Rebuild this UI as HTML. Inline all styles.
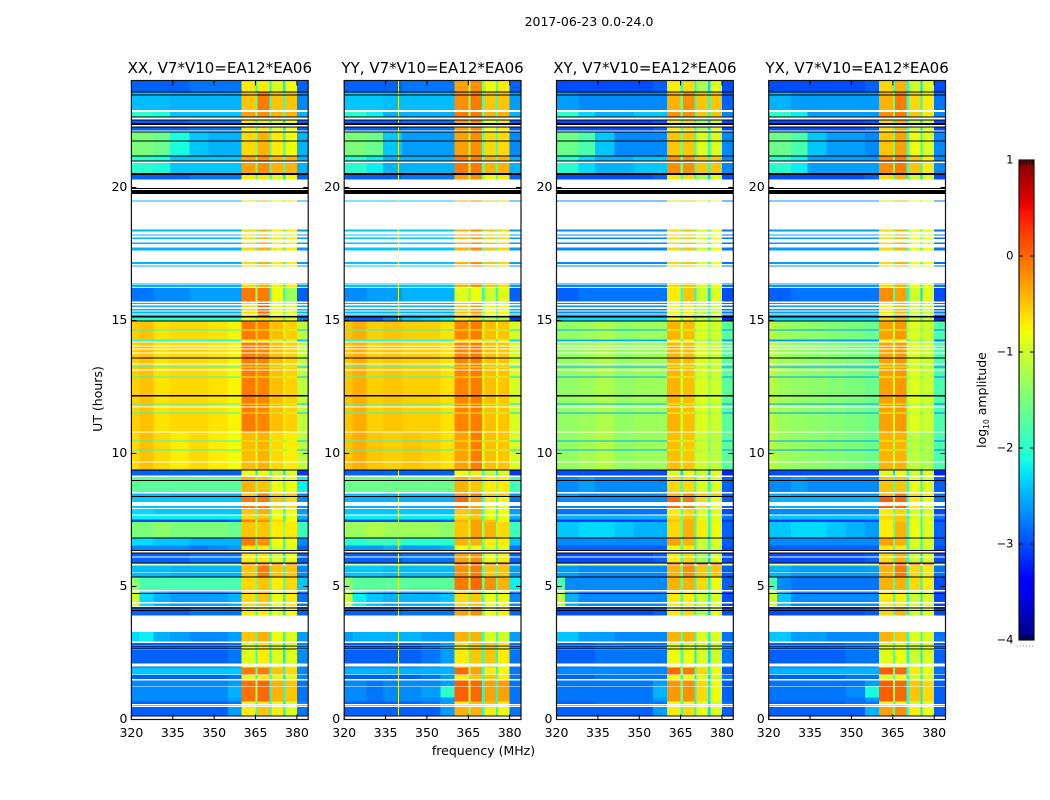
<!DOCTYPE html>
<html lang="en">
<head>
<meta charset="utf-8">
<title>2017-06-23 0.0-24.0</title>
<style>
html,body{margin:0;padding:0;background:#fff;}
svg{display:block;font-family:"DejaVu Sans","Liberation Sans",sans-serif;fill:#000;}
text{font-size:12.5px;}
</style>
</head>
<body>
<svg id="chart" xmlns="http://www.w3.org/2000/svg" width="1050" height="800" viewBox="0 0 1050 800">
  <rect x="0" y="0" width="1050" height="800" fill="#ffffff"/>
  <text x="589" y="26" text-anchor="middle" style="font-size:12.5px">2017-06-23 0.0-24.0</text>
  <text x="483.5" y="755" text-anchor="middle">frequency (MHz)</text>
  <text transform="translate(102,399) rotate(-90)" text-anchor="middle">UT (hours)</text>
  <text transform="translate(986,400) rotate(-90)" text-anchor="middle">log<tspan dy="3" style="font-size:7.5px">10</tspan><tspan dy="-3"> amplitude</tspan></text>
</svg>
<script>
// ---------- data ----------
const panelNames = ["XX", "YY", "XY", "YX"];
const panelSuffix = ", V7*V10=EA12*EA06";
const frequencyEdges = [320, 323, 328, 334, 341, 348, 355, 360, 365, 365.8, 370, 370.8, 375, 375.8, 380, 384.1];
const frequencyTicks = [320, 335, 350, 365, 380];
const hourTicks = [0, 5, 10, 15, 20];
const colorTicks = [1, 0, -1, -2, -3, -4];
const colorMinorTicks = [320.5, 321.5, 322.5, 323.5, 324.5];

// Time blocks: hour start, hour end, spectrum profile. White is whatever no block covers.
const blockStart = [0.13,0.50,0.58,0.68,0.82,1.25,1.52,1.70,1.96,2.11,2.67,2.80,2.93,3.91,4.26,4.41,4.86,5.38,5.55,5.83,5.90,6.13,6.37,6.55,6.85,7.42,7.52,7.71,7.95,8.18,8.40,8.56,9.00,9.17,
  9.40,9.70,10.11,10.15,10.45,10.49,10.83,11.50,11.54,11.77,11.84,11.88,12.86,12.90,13.16,13.23,13.27,13.38,13.80,13.95,14.06,14.21,14.28,14.32,14.62,14.66,
  15.00,15.16,15.27,15.38,15.50,15.62,15.71,16.26,16.35,17.02,17.12,17.63,17.88,18.06,18.19,18.35,19.47,20.30,20.55,21.00,21.20,21.77,22.15,22.43,22.67,22.92,23.50,23.60];
const blockEnd = [0.47,0.53,0.68,0.82,1.25,1.47,1.67,1.96,2.00,2.61,2.74,2.88,3.29,4.22,4.37,4.82,5.34,5.52,5.79,5.88,6.09,6.25,6.55,6.80,7.42,7.52,7.67,7.91,8.03,8.37,8.50,8.96,9.12,9.36,
  9.66,10.11,10.15,10.45,10.49,10.79,11.50,11.54,11.73,11.84,11.88,12.86,12.90,13.12,13.23,13.27,13.34,13.76,13.91,14.02,14.17,14.28,14.32,14.62,14.66,15.00,
  15.14,15.22,15.33,15.44,15.57,15.66,16.22,16.33,16.39,17.06,17.20,17.75,17.93,18.11,18.23,18.41,19.51,20.46,20.92,21.17,21.73,22.07,22.25,22.52,22.84,23.47,23.58,24.02];
const blockProfile = ["x","x","u","v","V","v","u","a","u","u","u","u","r","d","q","q","p","c","c","f","d","d","o","O","k","j","i","b","a","a","c","h","h","m",
  "z","z","e","z","e","z","y","e","y","y","e","y","e","y","y","e","y","y","y","y","y","e","y","y","e","y",
  "w","s","s","s","s","s","n","l","l","l","l","l","l","l","l","l","l","d","t","t","g","g","d","d","t","c","c","d"];

// Thin black (flagged) lines and thick black bands, in hours.
const blackStart = [0.11,2.63,2.75,4.07,4.17,4.71,5.34,5.86,6.24,6.33,6.80,8.37,8.97,9.36,12.15,13.57,14.96,15.12,19.94,19.76,20.46,20.98,21.17,21.73,22.07,22.25,22.35,22.52,22.63,23.46,23.57];
const blackEnd   = [0.15,2.67,2.79,4.11,4.21,4.75,5.38,5.90,6.28,6.37,6.84,8.41,9.01,9.40,12.19,13.61,15.00,15.16,19.97,19.91,20.55,21.02,21.21,21.77,22.11,22.29,22.43,22.56,22.67,23.50,23.61];

// Level per channel: 7 sky channels, hot, gap, hot, gap, hot, gap, hot, upper edge (log10 amplitude).
const levelsXX = {
 d:[-2.9,-2.9,-2.9,-2.9,-2.8,-2.8,-2.8,-0.7,-1.9,-0.7,-2.1,-0.9,-2.2,-0.8,-2.9],
 c:[-2.45,-2.45,-2.45,-2.5,-2.5,-2.5,-2.5,-0.5,-1.6,-0.1,-1.9,-0.5,-2.0,-0.5,-2.7],
 g:[-1.5,-1.5,-1.6,-2.1,-2.4,-2.5,-2.5,-0.6,-1.4,-0.4,-1.7,-0.7,-1.8,-0.8,-2.5],
 t:[-2.0,-2.0,-2.1,-2.4,-2.4,-2.4,-2.4,-0.3,-1.5,-0.2,-1.8,-0.4,-1.9,-0.4,-2.5],
 l:[-2.5,-2.5,-2.5,-2.5,-2.5,-2.5,-2.5,-0.6,-1.8,-0.4,-1.9,-0.7,-2.0,-0.7,-2.6],
 n:[-2.8,-2.8,-2.7,-2.7,-2.6,-2.6,-2.6,-0.1,-1.3,-0.1,-2.0,-0.8,-2.0,-1.3,-2.9],
 s:[-2.5,-2.5,-2.5,-2.5,-2.5,-2.5,-2.5,-0.6,-1.0,0.0,-1.5,-0.8,-1.7,-0.9,-2.5],
 w:[-2.0,-2.0,-2.0,-2.0,-2.0,-2.0,-2.0,-0.8,-1.4,-0.6,-1.6,-0.7,-1.8,-0.9,-2.8],
 y:[-0.55,-0.47,-0.65,-0.6,-0.6,-0.65,-0.75,-0.1,-0.5,-0.15,-0.6,-0.45,-0.7,-0.55,-1.1],
 z:[-0.6,-0.47,-0.6,-0.7,-0.6,-0.7,-0.8,-0.45,-1.0,-0.4,-1.1,-0.6,-1.0,-0.7,-1.1],
 e:[-2.0,-2.0,-2.0,-2.0,-2.0,-2.0,-2.0,-0.7,-1.8,-0.7,-1.8,-1.0,-1.9,-1.0,-2.4],
 m:[-2.9,-2.9,-2.9,-2.9,-2.9,-2.9,-2.9,-0.8,-2.2,-0.8,-2.0,-1.0,-2.2,-0.9,-3.1],
 h:[-1.7,-1.7,-1.7,-1.7,-1.7,-1.7,-1.7,-0.4,-1.3,-0.5,-1.6,-0.8,-1.6,-0.8,-2.2],
 b:[-2.3,-2.3,-2.4,-2.4,-2.4,-2.4,-2.4,-0.5,-1.7,-0.4,-1.9,-0.8,-2.0,-0.8,-2.6],
 a:[-2.4,-2.4,-2.4,-2.4,-2.4,-2.4,-2.4,-0.1,-1.5,-0.1,-2.0,-0.5,-2.0,-0.6,-2.7],
 i:[-2.2,-2.2,-2.2,-2.2,-2.2,-2.2,-2.2,-0.6,-1.7,-0.5,-1.9,-0.8,-2.0,-0.8,-2.5],
 j:[-3.0,-3.0,-3.0,-3.0,-3.0,-3.0,-2.9,-0.1,-1.0,-0.2,-1.8,-0.6,-2.0,-0.8,-3.0],
 k:[-1.5,-1.5,-1.4,-1.5,-1.5,-1.5,-1.6,-0.5,-1.2,-0.5,-1.4,-0.7,-1.4,-0.7,-1.9],
 o:[-2.7,-2.7,-2.7,-2.7,-2.8,-2.7,-2.6,-0.7,-1.7,-0.7,-1.9,-0.9,-2.0,-0.9,-2.9],
 O:[-2.3,-2.3,-2.4,-2.4,-2.5,-2.5,-2.5,-0.1,-1.5,-0.2,-1.8,-0.8,-2.0,-0.8,-2.7],
 p:[-1.4,-1.8,-1.8,-1.8,-1.8,-1.8,-1.8,-0.6,-1.5,-0.5,-1.7,-0.7,-1.8,-0.6,-2.4],
 q:[-1.0,-2.3,-2.5,-2.6,-2.6,-2.6,-2.5,-0.6,-1.8,-0.5,-2.0,-0.8,-2.1,-0.7,-2.8],
 r:[-2.3,-2.2,-2.5,-2.6,-2.7,-2.7,-2.6,-0.5,-1.7,-0.4,-2.0,-0.8,-2.0,-0.9,-2.6],
 u:[-2.9,-2.9,-2.9,-2.9,-2.9,-2.9,-2.8,-0.9,-1.9,-0.7,-2.1,-0.9,-2.2,-0.9,-2.7],
 v:[-2.7,-2.7,-2.7,-2.7,-2.7,-2.7,-2.6,-0.05,-1.3,0.0,-2.1,-0.4,-2.1,-0.5,-2.8],
 V:[-2.7,-2.7,-2.7,-2.7,-2.7,-2.7,-2.5,-0.05,-1.3,0.0,-2.1,-0.4,-2.1,-0.5,-2.8],
 x:[-2.9,-2.9,-2.9,-2.9,-2.9,-2.9,-2.6,-0.7,-1.8,-0.5,-2.1,-0.7,-2.1,-0.9,-2.8],
 f:[-1.0,-1.2,-1.2,-1.2,-1.2,-1.2,-1.2,0.3,-0.8,0.4,-0.8,0.4,-0.8,0.4,-2.5]
};
const levelsYY = {
 d:[-2.9,-2.9,-2.9,-2.9,-2.8,-2.8,-2.8,-0.3,-1.2,-0.2,-1.5,-0.8,-1.8,-0.7,-2.9],
 c:[-2.4,-2.4,-2.4,-2.45,-2.45,-2.45,-2.45,-0.2,-1.4,-0.1,-1.8,-0.5,-1.9,-0.5,-2.6],
 g:[-1.5,-1.5,-1.6,-2.4,-2.6,-2.6,-2.6,-0.3,-1.3,-0.2,-1.7,-0.6,-1.8,-0.6,-2.7],
 t:[-2.0,-2.0,-2.2,-2.5,-2.5,-2.5,-2.5,-0.1,-1.3,-0.1,-1.7,-0.4,-1.8,-0.4,-2.5],
 l:[-2.4,-2.4,-2.4,-2.4,-2.4,-2.4,-2.4,-0.4,-1.6,-0.2,-1.8,-0.5,-1.9,-0.6,-2.6],
 n:[-2.7,-2.7,-2.6,-2.6,-2.5,-2.5,-2.5,-0.9,-1.5,-0.8,-2.0,-1.0,-2.0,-0.9,-2.9],
 s:[-2.5,-2.5,-2.5,-2.5,-2.5,-2.5,-2.5,-0.5,-1.0,-0.3,-1.5,-0.8,-1.7,-0.8,-2.5],
 w:[-2.9,-2.9,-2.9,-2.7,-2.4,-2.3,-2.2,-0.7,-1.4,-0.6,-1.7,-1.1,-1.9,-1.1,-3.1],
 y:[-0.5,-0.37,-0.55,-0.5,-0.55,-0.55,-0.65,-0.15,-0.6,-0.1,-0.7,-0.45,-0.8,-0.5,-0.95],
 z:[-0.5,-0.37,-0.5,-0.55,-0.5,-0.55,-0.65,-0.3,-0.8,-0.1,-0.9,-0.45,-0.85,-0.5,-0.95],
 e:[-2.0,-2.0,-2.0,-2.0,-2.0,-2.0,-2.0,-0.7,-1.8,-0.7,-1.8,-1.0,-1.9,-1.0,-2.3],
 m:[-2.9,-2.9,-2.9,-2.9,-2.9,-2.9,-2.9,-0.8,-1.8,-0.7,-2.0,-1.0,-2.2,-0.9,-3.1],
 h:[-1.6,-1.6,-1.6,-1.6,-1.6,-1.6,-1.6,-0.4,-1.1,-0.5,-1.4,-0.7,-1.4,-0.7,-1.9],
 b:[-2.4,-2.4,-2.4,-2.4,-2.4,-2.4,-2.4,-0.5,-1.6,-0.4,-1.9,-0.8,-2.0,-0.8,-2.6],
 a:[-2.5,-2.5,-2.5,-2.5,-2.5,-2.5,-2.5,0.0,-1.3,-0.3,-2.0,-0.7,-2.0,-0.8,-2.8],
 i:[-2.2,-2.2,-2.2,-2.2,-2.2,-2.2,-2.2,-0.6,-1.6,-0.5,-1.9,-0.8,-2.0,-0.8,-2.5],
 j:[-3.0,-3.0,-3.0,-3.0,-3.0,-3.0,-2.9,-0.4,-1.0,-0.3,-1.6,-0.5,-1.9,-0.8,-3.0],
 k:[-1.3,-1.3,-1.2,-1.3,-1.3,-1.3,-1.4,-0.5,-1.1,-0.3,-1.3,-0.4,-1.3,-0.6,-1.9],
 o:[-2.6,-2.6,-2.6,-2.5,-2.6,-2.6,-2.5,-0.8,-1.6,-0.8,-1.8,-0.9,-1.9,-0.9,-2.8],
 O:[-2.0,-2.0,-1.9,-1.9,-2.0,-2.0,-2.0,-0.4,-1.4,-0.4,-1.6,-0.7,-1.7,-0.7,-2.4],
 p:[-1.4,-1.7,-1.7,-1.7,-1.7,-1.7,-1.7,-0.1,-1.2,0.0,-1.6,-0.2,-1.7,-0.4,-2.2],
 q:[-1.0,-2.2,-2.4,-2.5,-2.5,-2.5,-2.4,-0.6,-1.7,-0.5,-1.9,-0.8,-2.0,-0.8,-2.7],
 r:[-2.6,-2.5,-2.5,-2.5,-2.5,-2.6,-2.6,-0.4,-1.6,-0.4,-2.0,-0.9,-2.0,-1.0,-2.6],
 u:[-2.9,-2.9,-2.9,-2.9,-2.9,-2.8,-2.6,-0.7,-1.6,-0.5,-1.9,-0.5,-2.0,-0.7,-2.8],
 v:[-2.7,-2.7,-2.8,-2.7,-2.7,-2.7,-2.6,0.05,-1.1,0.0,-2.0,-0.3,-2.1,-0.3,-2.8],
 V:[-2.7,-2.7,-2.8,-2.7,-2.7,-2.6,-2.0,0.05,-1.1,0.0,-2.0,-0.3,-2.1,-0.3,-2.8],
 x:[-2.9,-2.9,-2.9,-2.9,-2.9,-2.9,-2.6,-0.4,-1.5,-0.4,-2.0,-0.7,-2.1,-0.8,-2.8],
 f:[-1.0,-1.2,-1.2,-1.2,-1.2,-1.2,-1.2,0.3,-0.8,0.4,-0.8,0.4,-0.8,0.4,-2.5]
};
const levelsXY = {
 d:[-3.0,-3.0,-3.0,-3.0,-3.0,-3.0,-2.9,-0.7,-1.9,-0.6,-2.1,-1.2,-2.3,-0.9,-3.0],
 c:[-2.6,-2.6,-2.7,-2.7,-2.7,-2.7,-2.7,-0.4,-1.6,-0.2,-2.0,-0.5,-2.0,-0.5,-2.9],
 g:[-1.6,-1.6,-1.8,-2.4,-2.7,-2.7,-2.7,-0.5,-1.6,-0.5,-1.9,-0.9,-2.0,-0.9,-2.7],
 t:[-2.0,-2.0,-2.3,-2.5,-2.5,-2.4,-2.4,-0.2,-1.6,-0.2,-1.9,-0.5,-2.0,-0.5,-2.7],
 l:[-2.7,-2.7,-2.7,-2.7,-2.7,-2.7,-2.7,-0.6,-1.7,-0.5,-1.9,-0.9,-2.1,-0.8,-2.8],
 n:[-2.9,-2.9,-2.8,-2.8,-2.8,-2.8,-2.8,-0.7,-1.9,-0.5,-2.1,-1.0,-2.3,-0.9,-3.0],
 s:[-2.7,-2.7,-2.7,-2.7,-2.7,-2.7,-2.7,-0.8,-1.8,-0.7,-2.0,-1.1,-2.1,-1.0,-2.8],
 w:[-2.3,-2.3,-2.3,-2.3,-2.3,-2.3,-2.3,-0.8,-1.8,-0.7,-2.0,-1.1,-2.1,-1.1,-3.2],
 y:[-1.35,-1.35,-1.3,-1.2,-1.35,-1.3,-1.3,-0.4,-1.0,-0.45,-1.2,-0.9,-1.3,-1.0,-1.7],
 z:[-1.35,-1.35,-1.25,-1.15,-1.35,-1.3,-1.3,-0.45,-1.1,-0.5,-1.2,-1.0,-1.35,-1.1,-1.7],
 e:[-2.5,-2.5,-2.5,-2.5,-2.5,-2.5,-2.5,-0.8,-1.9,-0.8,-2.0,-1.2,-2.1,-1.2,-2.6],
 m:[-3.0,-3.0,-3.0,-3.0,-3.0,-3.0,-3.0,-0.9,-2.3,-0.8,-2.1,-1.0,-2.4,-0.9,-3.2],
 h:[-2.7,-2.7,-2.6,-2.7,-2.7,-2.7,-2.7,-0.6,-1.8,-0.6,-2.0,-0.9,-2.1,-0.9,-2.9],
 b:[-2.8,-2.8,-2.8,-2.8,-2.8,-2.8,-2.8,-0.7,-1.8,-0.6,-2.0,-0.9,-2.1,-0.9,-3.0],
 a:[-2.7,-2.7,-2.7,-2.7,-2.7,-2.7,-2.7,0.0,-1.5,-0.1,-2.0,-0.6,-2.1,-0.8,-2.9],
 i:[-2.5,-2.5,-2.5,-2.5,-2.5,-2.5,-2.5,-0.6,-1.7,-0.5,-2.0,-0.9,-2.1,-0.9,-2.8],
 j:[-3.1,-3.1,-3.1,-3.1,-3.1,-3.1,-3.0,-0.5,-1.5,-0.4,-2.0,-0.7,-2.1,-0.9,-3.1],
 k:[-2.4,-2.4,-2.3,-2.3,-2.4,-2.5,-2.5,-0.6,-1.6,-0.4,-1.9,-0.7,-2.1,-0.8,-2.9],
 o:[-2.9,-2.9,-2.9,-2.9,-2.9,-2.9,-2.9,-0.8,-1.7,-0.7,-2.0,-1.0,-2.1,-1.0,-3.0],
 O:[-2.7,-2.7,-2.7,-2.7,-2.7,-2.7,-2.7,-0.3,-1.6,-0.4,-2.0,-1.0,-2.1,-0.9,-2.9],
 p:[-1.8,-2.7,-2.7,-2.7,-2.7,-2.7,-2.7,-0.4,-1.7,-0.4,-2.0,-0.6,-2.1,-0.8,-2.9],
 q:[-1.1,-2.5,-2.7,-2.7,-2.7,-2.7,-2.7,-0.7,-1.9,-0.7,-2.1,-1.0,-2.2,-0.9,-3.0],
 r:[-2.4,-2.4,-2.6,-2.6,-2.7,-2.7,-2.7,-0.4,-1.7,-0.4,-2.0,-0.9,-2.1,-0.9,-2.8],
 u:[-2.9,-2.9,-2.9,-2.8,-2.8,-2.8,-2.8,-0.8,-1.9,-0.8,-2.2,-0.9,-2.3,-1.0,-2.8],
 v:[-2.8,-2.8,-2.8,-2.8,-2.8,-2.8,-2.6,-0.25,-1.5,-0.2,-2.1,-0.6,-2.2,-0.8,-2.9],
 V:[-2.8,-2.8,-2.8,-2.8,-2.8,-2.8,-2.5,-0.25,-1.5,-0.2,-2.1,-0.6,-2.2,-0.8,-2.9],
 x:[-2.9,-2.9,-2.9,-2.9,-2.9,-2.9,-2.6,-0.7,-1.9,-0.6,-2.1,-0.8,-2.3,-0.9,-2.9],
 f:[-0.9,-0.9,-0.9,-0.9,-0.9,-0.9,-0.9,0.4,-0.8,0.5,-0.8,0.5,-0.8,0.5,-1.0]
};
const levelsYX = {
 d:[-3.0,-3.0,-3.0,-3.0,-3.0,-3.0,-2.9,-0.6,-1.9,-0.4,-2.1,-1.0,-2.3,-0.9,-3.0],
 c:[-2.5,-2.5,-2.6,-2.6,-2.6,-2.6,-2.6,-0.4,-1.6,-0.1,-2.0,-0.6,-2.1,-0.7,-2.8],
 g:[-1.6,-1.6,-1.8,-2.4,-2.6,-2.6,-2.7,-0.5,-1.5,-0.3,-1.9,-0.8,-2.0,-0.9,-2.7],
 t:[-2.0,-2.0,-2.2,-2.6,-2.6,-2.6,-2.6,-0.2,-1.5,-0.1,-1.9,-0.5,-2.0,-0.7,-2.7],
 l:[-2.6,-2.6,-2.6,-2.6,-2.6,-2.6,-2.6,-0.6,-1.7,-0.4,-1.9,-0.8,-2.1,-0.8,-2.8],
 n:[-2.9,-2.9,-2.8,-2.8,-2.8,-2.8,-2.8,-0.2,-1.7,-0.3,-2.1,-1.0,-2.3,-0.9,-3.0],
 s:[-2.6,-2.6,-2.6,-2.6,-2.6,-2.6,-2.6,-0.7,-1.7,-0.4,-2.0,-1.0,-2.1,-1.0,-2.8],
 w:[-2.3,-2.3,-2.3,-2.3,-2.3,-2.3,-2.3,-0.6,-1.8,-0.4,-2.0,-1.0,-2.1,-1.0,-3.2],
 y:[-1.15,-1.3,-1.35,-1.4,-1.45,-1.5,-1.6,-0.3,-1.0,-0.25,-1.2,-0.9,-1.3,-1.0,-1.8],
 z:[-1.15,-1.3,-1.35,-1.4,-1.45,-1.5,-1.6,-0.4,-1.1,-0.4,-1.3,-1.1,-1.4,-1.2,-1.8],
 e:[-2.6,-2.6,-2.6,-2.6,-2.6,-2.6,-2.6,-0.8,-1.9,-0.8,-2.0,-1.2,-2.1,-1.2,-2.8],
 m:[-3.0,-3.0,-3.0,-3.0,-3.0,-3.0,-3.0,-0.9,-2.3,-0.8,-2.1,-1.0,-2.4,-0.9,-3.2],
 h:[-2.7,-2.7,-2.6,-2.7,-2.7,-2.7,-2.7,-0.5,-1.8,-0.5,-2.0,-0.8,-2.1,-0.9,-2.9],
 b:[-2.7,-2.7,-2.7,-2.7,-2.7,-2.7,-2.7,-0.7,-1.8,-0.6,-2.0,-0.9,-2.1,-0.9,-3.0],
 a:[-2.5,-2.5,-2.5,-2.5,-2.5,-2.5,-2.5,0.05,-1.5,0.0,-2.0,-0.7,-2.1,-0.8,-2.8],
 i:[-2.4,-2.4,-2.4,-2.4,-2.4,-2.4,-2.4,-0.6,-1.7,-0.5,-2.0,-0.9,-2.1,-0.9,-2.8],
 j:[-3.1,-3.1,-3.1,-3.1,-3.1,-3.1,-3.0,-0.7,-1.5,-0.5,-2.0,-0.8,-2.1,-0.9,-3.1],
 k:[-2.4,-2.4,-2.3,-2.3,-2.4,-2.5,-2.6,-0.7,-1.6,-0.4,-1.9,-0.8,-2.1,-0.9,-2.9],
 o:[-2.9,-2.9,-2.9,-2.9,-2.9,-2.9,-2.9,-0.7,-1.7,-0.7,-2.0,-1.0,-2.1,-1.0,-3.0],
 O:[-2.7,-2.7,-2.7,-2.7,-2.7,-2.7,-2.7,-0.3,-1.6,-0.4,-2.0,-0.9,-2.1,-0.9,-2.9],
 p:[-1.8,-2.7,-2.8,-2.8,-2.8,-2.8,-2.8,-0.4,-1.7,-0.4,-2.0,-0.6,-2.1,-0.7,-3.0],
 q:[-1.0,-2.4,-2.7,-2.7,-2.7,-2.7,-2.7,-0.7,-1.9,-0.7,-2.1,-1.0,-2.2,-0.9,-3.0],
 r:[-2.4,-2.4,-2.6,-2.6,-2.7,-2.7,-2.7,-0.4,-1.6,-0.5,-2.0,-0.9,-2.0,-0.9,-2.8],
 u:[-2.9,-2.9,-2.9,-2.9,-2.9,-2.8,-2.8,-0.9,-1.8,-0.8,-2.1,-1.0,-2.2,-0.9,-2.9],
 v:[-2.8,-2.8,-2.8,-2.8,-2.8,-2.8,-2.6,0.05,-1.3,0.0,-2.1,-0.5,-2.2,-0.6,-2.9],
 V:[-2.8,-2.8,-2.8,-2.8,-2.8,-2.7,-2.1,0.05,-1.3,0.0,-2.1,-0.5,-2.2,-0.6,-2.9],
 x:[-2.9,-2.9,-2.9,-2.9,-2.9,-2.9,-2.5,-0.3,-1.7,-0.2,-2.0,-0.7,-2.2,-0.8,-2.9],
 f:[-0.9,-0.9,-0.9,-0.9,-0.9,-0.9,-0.9,0.4,-0.8,0.5,-0.8,0.5,-0.8,0.5,-1.0]
};
const panelLevels = [levelsXX, levelsYY, levelsXY, levelsYX];

// Narrow interference line seen only in YY.
const yySpurChannel = [339.55, 339.95];
const yySpurLevel = -0.85;
const yySpurSkips = ["y", "z", "e", "k", "h"];

// ---------- layout ----------
const panelLeft = [131.4, 344.2, 556.5, 768.7];
const panelWidth = 176.8;
const plotTop = 80.5, plotBottom = 719.5;
const hourMax = 24.02, freqMin = 320, freqMax = 384.1;
const barLeft = 1019, barRight = 1034, barTop = 160, barBottom = 640;
const levelMin = -4, levelMax = 1;

const svg = document.getElementById('chart');
const NS = 'http://www.w3.org/2000/svg';
const xScale = (panel, mhz) => panelLeft[panel] + (mhz - freqMin) / (freqMax - freqMin) * panelWidth;
const yScale = hour => plotBottom - hour / hourMax * (plotBottom - plotTop);
const barScale = level => barBottom - (level - levelMin) / (levelMax - levelMin) * (barBottom - barTop);

function jet(level) {
  const t = Math.max(0, Math.min(1, (level - levelMin) / (levelMax - levelMin)));
  const ramp = (pts) => {
    for (let i = 1; i < pts.length; i++) {
      if (t <= pts[i][0]) {
        const f = (t - pts[i - 1][0]) / (pts[i][0] - pts[i - 1][0]);
        return pts[i - 1][1] + f * (pts[i][1] - pts[i - 1][1]);
      }
    }
    return pts[pts.length - 1][1];
  };
  const r = ramp([[0, 0], [0.35, 0], [0.66, 1], [0.89, 1], [1, 0.5]]);
  const g = ramp([[0, 0], [0.125, 0], [0.375, 1], [0.64, 1], [0.91, 0], [1, 0]]);
  const b = ramp([[0, 0.5], [0.11, 1], [0.34, 1], [0.65, 0], [1, 0]]);
  return 'rgb(' + Math.round(r * 255) + ',' + Math.round(g * 255) + ',' + Math.round(b * 255) + ')';
}

function makeRect(parent, x, y, w, h, fill) {
  const el = document.createElementNS(NS, 'rect');
  el.setAttribute('x', x.toFixed(2));
  el.setAttribute('y', y.toFixed(2));
  el.setAttribute('width', Math.max(w, 0.5).toFixed(2));
  el.setAttribute('height', Math.max(h, 0.5).toFixed(2));
  el.setAttribute('fill', fill);
  el.setAttribute('shape-rendering', 'crispEdges');
  parent.appendChild(el);
  return el;
}
function makeLine(parent, x1, y1, x2, y2, stroke, width) {
  const el = document.createElementNS(NS, 'line');
  el.setAttribute('x1', x1);
  el.setAttribute('y1', y1);
  el.setAttribute('x2', x2);
  el.setAttribute('y2', y2);
  el.setAttribute('stroke', stroke);
  el.setAttribute('stroke-width', width);
  parent.appendChild(el);
  return el;
}
function makeText(parent, x, y, anchor, size, str) {
  const el = document.createElementNS(NS, 'text');
  el.setAttribute('x', x);
  el.setAttribute('y', y);
  el.setAttribute('text-anchor', anchor);
  el.style.fontSize = size + 'px';
  el.textContent = str;
  parent.appendChild(el);
  return el;
}

panelNames.forEach((name, p) => {
  const g = document.createElementNS(NS, 'g');
  
  
  svg.appendChild(g);
  const levels = panelLevels[p];
  const left = panelLeft[p], right = left + panelWidth;

  blockStart.forEach((start, b) => {
    const end = blockEnd[b];
    const key = blockProfile[b];
    const row = levels[key];
    row.forEach((level, c) => {
      const x0 = xScale(p, frequencyEdges[c]);
      const x1 = xScale(p, frequencyEdges[c + 1]);
      const cell = makeRect(g, x0, yScale(end), x1 - x0, yScale(start) - yScale(end), jet(level));
      
      
    });
    if (name === 'YY' && yySpurSkips.indexOf(key) < 0) {
      const sx0 = xScale(p, yySpurChannel[0]);
      const sx1 = xScale(p, yySpurChannel[1]);
      const spur = makeRect(g, sx0, yScale(end), sx1 - sx0, yScale(start) - yScale(end), jet(yySpurLevel));
      
      
    }
  });

  blackStart.forEach((start, i) => {
    const band = makeRect(g, left, yScale(blackEnd[i]), panelWidth, yScale(start) - yScale(blackEnd[i]), '#000');
    
    
  });

  hourTicks.forEach(hour => {
    const y = yScale(hour);
    const tickA = makeLine(g, left, y, left + 5, y, '#000', 1);
    
    
    const tickB = makeLine(g, right - 5, y, right, y, '#000', 1);
    
    
    const label = makeText(g, left - 4, y + 3.5, 'end', 12.5, String(hour));
    
    
  });
  frequencyTicks.forEach(mhz => {
    const x = xScale(p, mhz);
    const tickA = makeLine(g, x, plotBottom, x, plotBottom - 5, '#000', 1);
    
    
    const tickB = makeLine(g, x, plotTop, x, plotTop + 5, '#000', 1);
    
    
    const label = makeText(g, x, plotBottom + 17.5, 'middle', 12.5, String(mhz));
    
    
  });

  const frame = document.createElementNS(NS, 'rect');
  frame.setAttribute('x', left);
  frame.setAttribute('y', plotTop);
  frame.setAttribute('width', panelWidth);
  frame.setAttribute('height', plotBottom - plotTop);
  frame.setAttribute('fill', 'none');
  frame.setAttribute('stroke', '#111');
  frame.setAttribute('stroke-width', '1.2');
  
  
  g.appendChild(frame);

  const title = makeText(g, left + panelWidth / 2, 73, 'middle', 15, name + panelSuffix);
  
  
});

// ---------- colour bar ----------
const bar = document.createElementNS(NS, 'g');


svg.appendChild(bar);
for (let y = barTop; y < barBottom; y++) {
  const level = levelMax - (y + 0.5 - barTop) / (barBottom - barTop) * (levelMax - levelMin);
  const seg = makeRect(bar, barLeft, y, barRight - barLeft, 1, jet(level));
  
  
}
colorTicks.forEach(level => {
  const y = barScale(level);
  const a = makeLine(bar, barLeft, y, barLeft + 4, y, '#000', 1);
  
  
  const c = makeLine(bar, barRight - 4, y, barRight, y, '#000', 1);
  
  
  const label = makeText(bar, barLeft - 5.5, y + 3.5, 'end', 11.5, String(level).replace('-', '\u2212'));
  
  
});
colorMinorTicks.forEach((v, i) => {
  const x = barLeft + 2 + i * 2.8;
  const top = makeLine(bar, x, barTop, x, barTop + 5, '#000', 1);
  
  
  const bottom = makeLine(bar, x, barBottom, x, barBottom - 5, '#000', 1);
  
  
});
const barFrame = document.createElementNS(NS, 'rect');
barFrame.setAttribute('x', barLeft);
barFrame.setAttribute('y', barTop);
barFrame.setAttribute('width', barRight - barLeft);
barFrame.setAttribute('height', barBottom - barTop);
barFrame.setAttribute('fill', 'none');
barFrame.setAttribute('stroke', '#111');
barFrame.setAttribute('stroke-width', '1.2');


bar.appendChild(barFrame);
const dots = makeLine(bar, 1017, 646, 1035, 646, '#888', 1);
dots.setAttribute('stroke-dasharray', '1 2');


</script>
</body>
</html>
